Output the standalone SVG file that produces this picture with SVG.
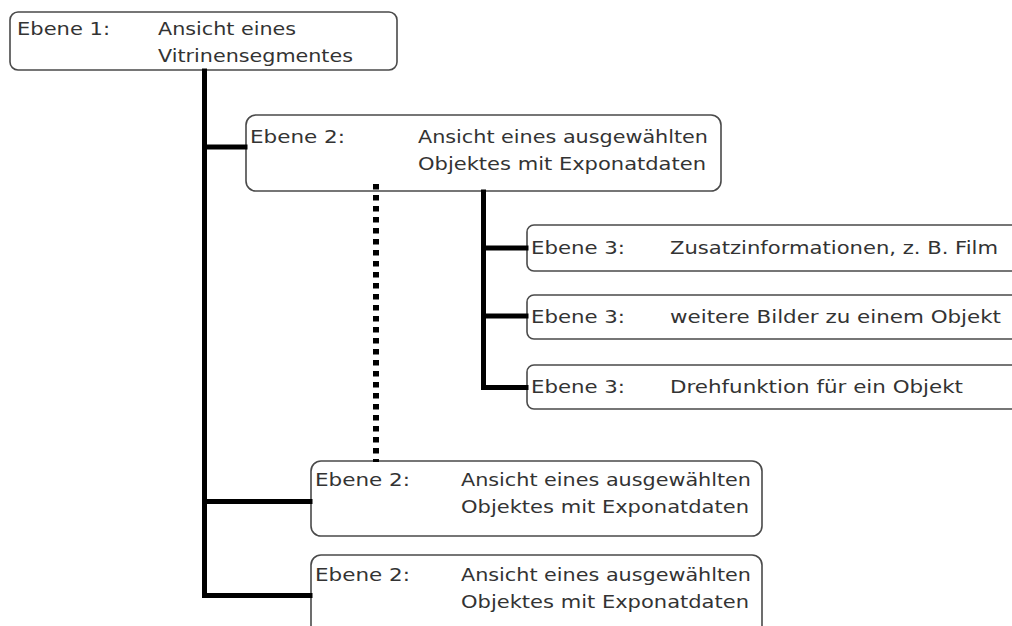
<svg xmlns="http://www.w3.org/2000/svg" width="1012" height="626" viewBox="0 0 1012 626">
  <style>
    .box { fill: #ffffff; stroke: #4a4a4a; stroke-width: 1.6; }
    .lbl { font-family: "DejaVu Sans", Verdana, sans-serif; font-size: 17.5px; fill: #333333; }
    .trunk { stroke: #000000; stroke-width: 5; fill: none; stroke-linecap: square; }
    .dots { stroke: #000000; stroke-width: 6; fill: none; stroke-dasharray: 5.5 5.5; }
  </style>
  <rect x="0" y="0" width="1012" height="626" fill="#ffffff"/>

  <g id="node-ebene1">
    <rect class="box" x="10" y="12" width="387" height="58" rx="8"/>
    <text class="lbl" x="17" y="35" textLength="93" lengthAdjust="spacingAndGlyphs">Ebene 1:</text>
    <text class="lbl" x="158" y="35" textLength="138" lengthAdjust="spacingAndGlyphs">Ansicht eines</text>
    <text class="lbl" x="158" y="62" textLength="195" lengthAdjust="spacingAndGlyphs">Vitrinensegmentes</text>
  </g>

  <g id="node-ebene2-a">
    <rect class="box" x="246" y="115" width="475" height="76" rx="10"/>
    <text class="lbl" x="250" y="143" textLength="95" lengthAdjust="spacingAndGlyphs">Ebene 2:</text>
    <text class="lbl" x="418" y="143" textLength="290" lengthAdjust="spacingAndGlyphs">Ansicht eines ausgewählten</text>
    <text class="lbl" x="418" y="170" textLength="288" lengthAdjust="spacingAndGlyphs">Objektes mit Exponatdaten</text>
  </g>

  <g id="node-ebene3-film">
    <rect class="box" x="527" y="225" width="500" height="46" rx="7"/>
    <text class="lbl" x="531" y="254" textLength="94" lengthAdjust="spacingAndGlyphs">Ebene 3:</text>
    <text class="lbl" x="670" y="254" textLength="328" lengthAdjust="spacingAndGlyphs">Zusatzinformationen, z. B. Film</text>
  </g>

  <g id="node-ebene3-bilder">
    <rect class="box" x="527" y="295" width="500" height="44" rx="7"/>
    <text class="lbl" x="531" y="323" textLength="94" lengthAdjust="spacingAndGlyphs">Ebene 3:</text>
    <text class="lbl" x="670" y="323" textLength="331" lengthAdjust="spacingAndGlyphs">weitere Bilder zu einem Objekt</text>
  </g>

  <g id="node-ebene3-dreh">
    <rect class="box" x="527" y="365" width="500" height="44" rx="7"/>
    <text class="lbl" x="531" y="393" textLength="94" lengthAdjust="spacingAndGlyphs">Ebene 3:</text>
    <text class="lbl" x="670" y="393" textLength="293" lengthAdjust="spacingAndGlyphs">Drehfunktion für ein Objekt</text>
  </g>

  <g id="node-ebene2-b">
    <rect class="box" x="311" y="461" width="451" height="75" rx="10"/>
    <text class="lbl" x="315" y="486" textLength="95" lengthAdjust="spacingAndGlyphs">Ebene 2:</text>
    <text class="lbl" x="461" y="486" textLength="290" lengthAdjust="spacingAndGlyphs">Ansicht eines ausgewählten</text>
    <text class="lbl" x="461" y="513" textLength="288" lengthAdjust="spacingAndGlyphs">Objektes mit Exponatdaten</text>
  </g>

  <g id="node-ebene2-c">
    <rect class="box" x="311" y="555" width="451" height="82" rx="10"/>
    <text class="lbl" x="315" y="581" textLength="95" lengthAdjust="spacingAndGlyphs">Ebene 2:</text>
    <text class="lbl" x="461" y="581" textLength="290" lengthAdjust="spacingAndGlyphs">Ansicht eines ausgewählten</text>
    <text class="lbl" x="461" y="608" textLength="288" lengthAdjust="spacingAndGlyphs">Objektes mit Exponatdaten</text>
  </g>

  <g id="connectors">
    <!-- level 1 trunk with branches to the level 2 views -->
    <path class="trunk" d="M204.5 71 V595.5 H310"/>
    <path class="trunk" d="M204.5 147 H245"/>
    <path class="trunk" d="M204.5 501.5 H310"/>
    <!-- level 2 trunk with branches to the level 3 views -->
    <path class="trunk" d="M483.5 192 V387.5 H526"/>
    <path class="trunk" d="M483.5 248 H526"/>
    <path class="trunk" d="M483.5 316 H526"/>
    <!-- dotted link between the level 2 views -->
    <line class="dots" x1="376" y1="184" x2="376" y2="462"/>
  </g>
</svg>
